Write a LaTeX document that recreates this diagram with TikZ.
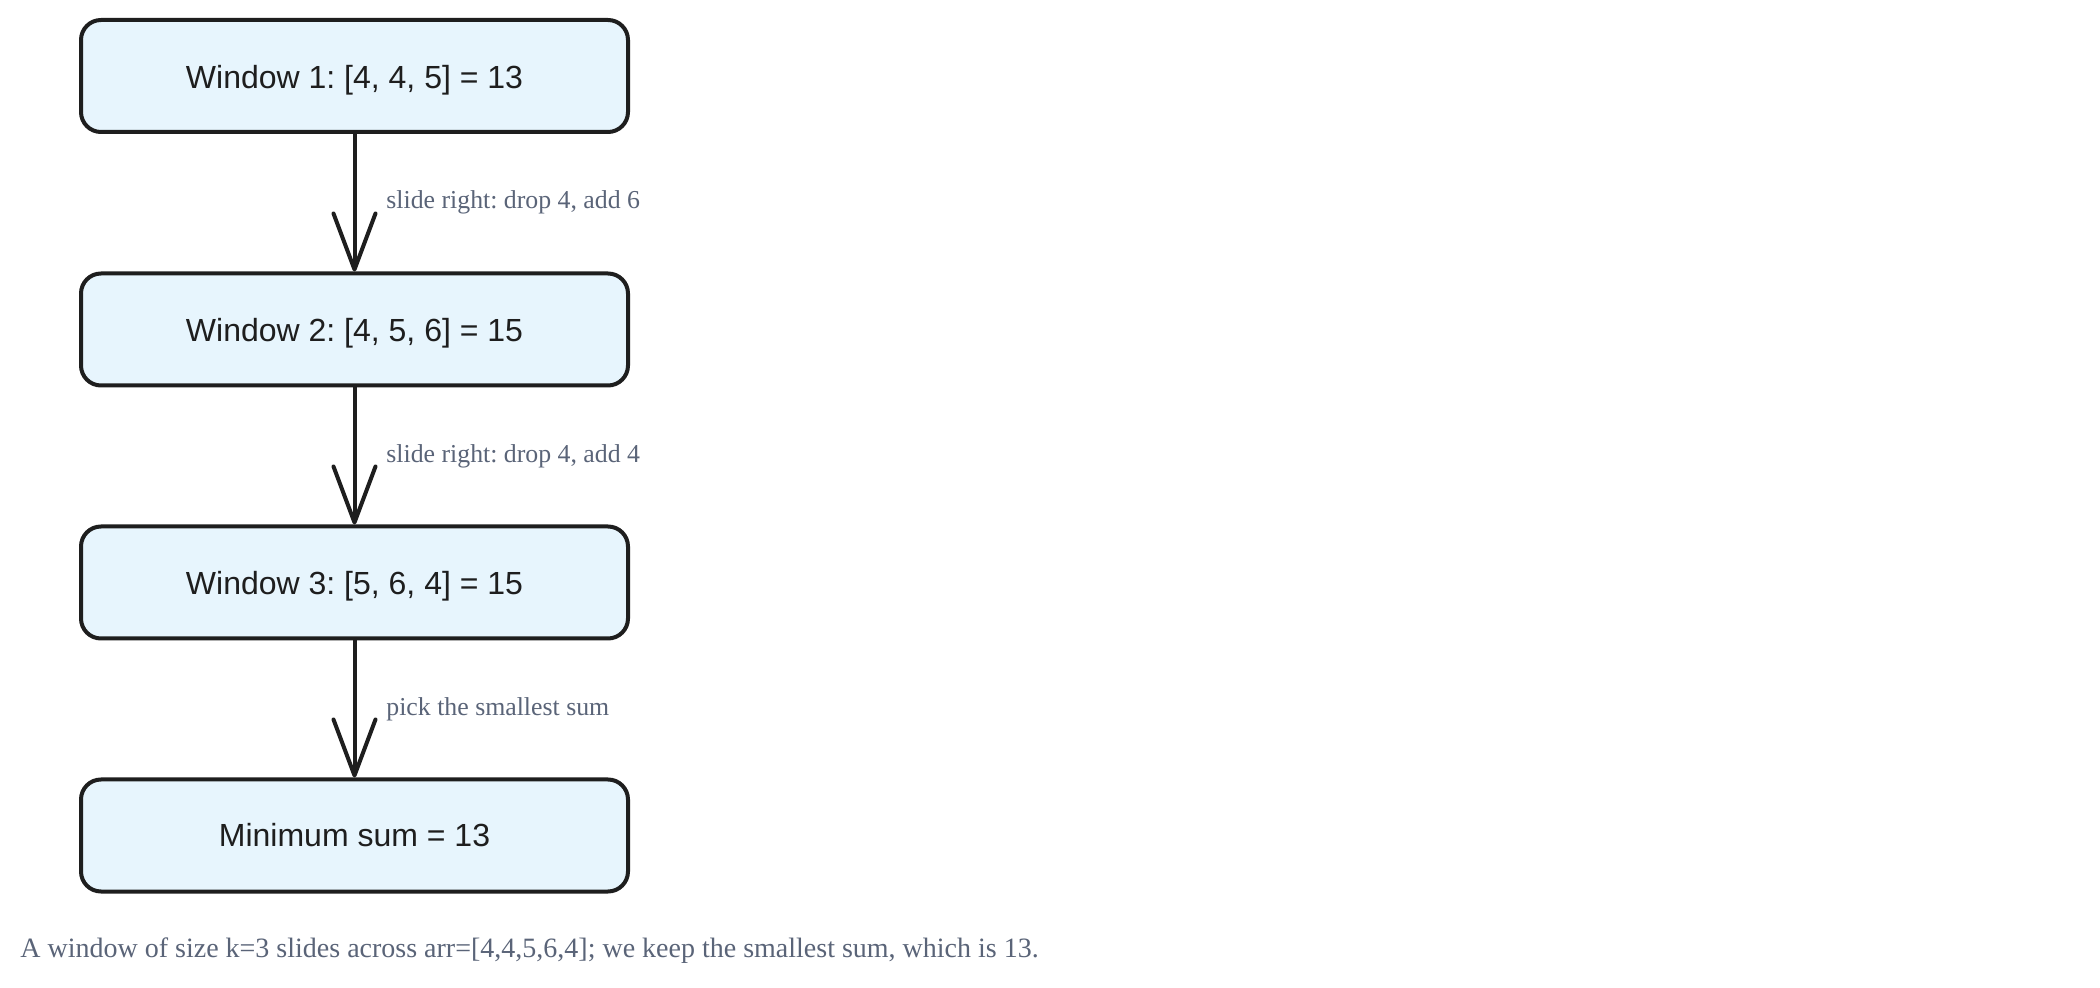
\documentclass[tikz,border=0pt]{standalone}
\usepackage{fontspec}
\setmainfont{Liberation Serif}
\newfontfamily\boxfont{Liberation Sans}
\usetikzlibrary{arrows.meta}
\definecolor{boxfill}{HTML}{E7F5FD}
\definecolor{ink}{HTML}{1E1E1E}
\definecolor{note}{HTML}{5A6478}
\frenchspacing
\begin{document}
\begin{tikzpicture}[x=0.5pt,y=-0.5pt,
  win/.style={draw=ink, line width=2pt, fill=boxfill, rounded corners=10pt,
    minimum width=273.5pt, minimum height=56pt, inner sep=0pt,
    font=\boxfont\fontsize{16}{19}\selectfont, text=ink},
  lowtext/.style={text height=16pt, text depth=3.5pt},
  flow/.style={draw=ink, line width=2pt, line cap=round,
    -{Straight Barb[length=28pt,width=21pt,line width=2pt,round]}},
  lab/.style={anchor=base west, font=\fontsize{12.9}{16}\selectfont, text=note, inner sep=0pt},
  capt/.style={anchor=base west, font=\fontsize{14}{17}\selectfont, text=note, inner sep=0pt}]
\useasboundingbox (0,0) rectangle (2100,988);
\fill[white] (0,0) rectangle (2100,988);
\node[win,lowtext] (w1) at (354.5,76) {Window 1: [4, 4, 5] = 13};
\node[win,lowtext] (w2) at (354.5,329.5) {Window 2: [4, 5, 6] = 15};
\node[win,lowtext] (w3) at (354.5,582.5) {Window 3: [5, 6, 4] = 15};
\node[win] (w4) at (354.5,835.5) {Minimum sum = 13};
\draw[flow] (w1) -- (w2);
\draw[flow] (w2) -- (w3);
\draw[flow] (w3) -- (w4);
\node[lab] (l1) at (386,209) {slide right: drop 4, add 6};
\node[lab] (l2) at (386,463) {slide right: drop 4, add 4};
\node[lab] (l3) at (386,716) {pick the smallest sum};
\node[capt] (cap) at (20,957) {A window of size k=3 slides across arr=[4,4,5,6,4]; we keep the smallest sum, which is 13.};
\end{tikzpicture}
\end{document}
